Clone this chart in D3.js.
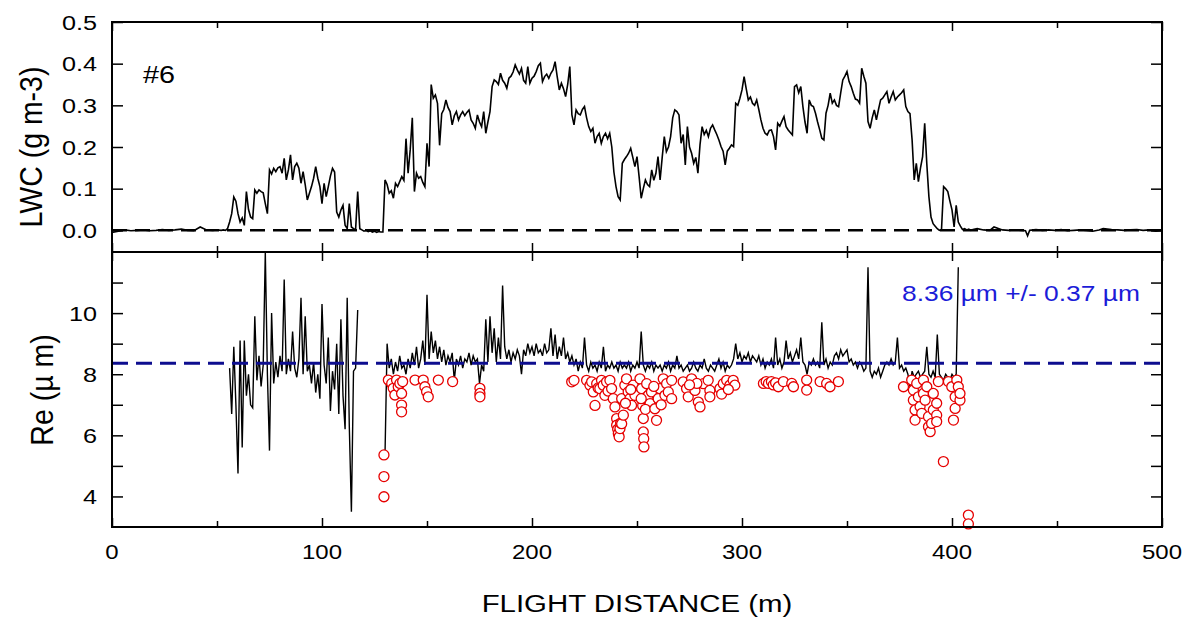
<!DOCTYPE html>
<html lang="en">
<head>
<meta charset="utf-8">
<title>LWC and Re along flight distance, #6</title>
<script src="https://cdn.jsdelivr.net/npm/d3@7"></script>
<style>
  body { margin: 0; background: #fff; }
  text { font-family: "Liberation Sans", Arial, sans-serif; }
</style>
</head>
<body>
<script>
// ---- data ----
// clear air outside the cloud (LWC ~ 0)
var lwcClearDist = [0, 3, 6, 9, 12, 15, 18, 21, 24, 27, 30, 33, 36, 39, 42, 45, 48, 50,
  412, 415, 418, 420, 424, 427, 430, 433, 435, 436, 437, 440, 443, 446, 449, 452, 455, 458,
  461, 464, 467, 470, 472, 476, 479, 482, 485, 488, 491, 494, 497, 500];
var lwcClearVal = [-0.005, -0.002, 0.001, -0.001, 0.000, 0.001, -0.001, 0.000, 0.002, 0.000, 0.001, 0.003, 0.000, -0.001, 0.008, 0.001, 0.000, 0.001,
  0.004, 0.001, 0.000, 0.008, 0.001, 0.000, 0.001, 0.000, -0.001, -0.013, 0.000, 0.002, 0.000, 0.001, 0.000, 0.002, -0.001, 0.000,
  0.001, 0.000, -0.002, 0.001, 0.004, 0.002, 0.001, 0.000, 0.001, 0.002, 0.000, 0.001, -0.002, 0.000];

// in-cloud LWC, one value per metre starting at 52 m
var lwcCloudStart = 52;
var lwcCloud = [
  0.000, 0.001, 0.000, 0.004, 0.020, 0.040, 0.080, 0.070, 0.040, 0.020, 0.030, 0.012, 0.093, 0.050, 0.032, 0.028, 0.097, 0.089,  // 52-69
  0.097, 0.093, 0.090, 0.064, 0.040, 0.145, 0.135, 0.149, 0.141, 0.150, 0.153, 0.137, 0.173, 0.121, 0.145, 0.181, 0.121, 0.153, 0.161, 0.149, // 70-89
  0.113, 0.141, 0.110, 0.073, 0.089, 0.105, 0.125, 0.153, 0.125, 0.105, 0.064, 0.113, 0.081, 0.105, 0.130, 0.149, 0.140, 0.044, 0.032, 0.049, // 90-109
  0.060, 0.012, 0.004, 0.064, 0.008, 0.004, 0.002, 0.093, 0.004, 0.001, -0.002, 0.000, -0.003, -0.001, -0.004, -0.002, -0.005, -0.003, -0.004, -0.004, // 110-129
  0.121, 0.110, 0.089, 0.095, 0.077, 0.113, 0.105, 0.117, 0.129, 0.120, 0.220, 0.137, 0.193, 0.270, 0.093, 0.137, 0.125, 0.129, 0.115, 0.105, // 130-149
  0.209, 0.153, 0.350, 0.317, 0.325, 0.305, 0.204, 0.280, 0.290, 0.313, 0.295, 0.285, 0.253, 0.275, 0.285, 0.265, 0.277, 0.285, 0.275, 0.283, // 150-169
  0.289, 0.265, 0.257, 0.245, 0.277, 0.260, 0.249, 0.285, 0.233, 0.260, 0.285, 0.345, 0.361, 0.357, 0.350, 0.377, 0.360, 0.353, 0.341, 0.365, // 170-189
  0.370, 0.380, 0.397, 0.385, 0.375, 0.389, 0.360, 0.353, 0.393, 0.353, 0.365, 0.370, 0.381, 0.395, 0.401, 0.357, 0.369, 0.375, 0.365, 0.377, // 190-209
  0.385, 0.405, 0.369, 0.337, 0.353, 0.340, 0.321, 0.350, 0.393, 0.277, 0.253, 0.289, 0.280, 0.277, 0.290, 0.297, 0.270, 0.249, 0.237, 0.245, // 210-229
  0.209, 0.225, 0.233, 0.209, 0.225, 0.233, 0.220, 0.233, 0.200, 0.140, 0.105, 0.081, 0.073, 0.161, 0.170, 0.177, 0.185, 0.197, 0.175, 0.153, // 230-249
  0.177, 0.129, 0.077, 0.100, 0.121, 0.110, 0.105, 0.145, 0.120, 0.137, 0.177, 0.121, 0.175, 0.225, 0.189, 0.200, 0.225, 0.270, 0.289, 0.285, // 250-269
  0.277, 0.209, 0.230, 0.157, 0.249, 0.200, 0.185, 0.161, 0.175, 0.137, 0.205, 0.249, 0.230, 0.240, 0.225, 0.245, 0.253, 0.241, 0.230, 0.217, // 270-289
  0.201, 0.190, 0.157, 0.190, 0.197, 0.205, 0.201, 0.305, 0.300, 0.317, 0.337, 0.369, 0.340, 0.313, 0.320, 0.305, 0.300, 0.313, 0.290, 0.265, // 290-309
  0.245, 0.233, 0.229, 0.240, 0.241, 0.225, 0.193, 0.257, 0.250, 0.262, 0.273, 0.249, 0.241, 0.235, 0.229, 0.345, 0.349, 0.330, 0.345, 0.297, // 310-329
  0.260, 0.233, 0.313, 0.300, 0.297, 0.281, 0.260, 0.241, 0.221, 0.217, 0.281, 0.300, 0.329, 0.305, 0.313, 0.300, 0.297, 0.330, 0.361, 0.370, // 330-349
  0.381, 0.357, 0.345, 0.329, 0.315, 0.313, 0.305, 0.389, 0.370, 0.353, 0.261, 0.245, 0.270, 0.289, 0.265, 0.290, 0.313, 0.317, 0.325, 0.333, // 350-369
  0.305, 0.320, 0.333, 0.313, 0.320, 0.325, 0.330, 0.337, 0.297, 0.285, 0.280, 0.217, 0.121, 0.161, 0.117, 0.150, 0.177, 0.257, 0.160, 0.081, // 370-389
  0.032, 0.016, 0.010, 0.004, 0.000, 0.002, 0.105, 0.100, 0.093, 0.070, 0.049, 0.008, 0.060, 0.020, 0.010, 0.002, 0.004, 0.001, 0.003, 0.000, // 390-409
  0.002 // 410
];

// effective radius, two measured segments, one value per metre
var reSeg1Start = 56;
var reSeg1 = [
  8.2, 6.7, 8.9, 7.0, 4.75, 9.1, 5.6, 9.1, 7.3, 8.0, 7.0, 6.9, 9.9, 7.8,            // 56-69
  8.6, 7.6, 8.3, 12.0, 8.0, 5.5, 10.0, 7.7, 8.4, 7.9, 8.6, 8.1, 11.1, 8.0, 8.5, 8.1, 9.4, 8.2, 7.9, 8.5, // 70-89
  10.5, 8.0, 9.9, 8.1, 8.3, 7.7, 8.4, 7.4, 8.0, 7.2, 10.3, 8.3, 7.7, 9.2, 6.8, 8.1, 7.5, 9.0, 6.7, 9.8, // 90-109
  7.3, 6.2, 10.5, 6.3, 3.5, 8.1, 8.2, 10.1                                            // 110-117
];
var reSeg2Start = 130;
var reSeg2 = [
  5.35, 9.0, 8.2, 8.5, 8.0, 8.4, 8.1, 8.6, 8.2, 8.3, 8.0, 8.5, 8.2, 8.7, 8.3, 8.9, 8.2, 8.5, 9.1, 8.3,   // 130-149
  10.6, 8.5, 9.4, 8.7, 9.1, 8.5, 8.9, 8.4, 8.8, 8.3, 8.6, 8.4, 8.7, 7.8, 8.5, 8.3, 8.6, 8.2, 8.5, 8.4,  // 150-169
  8.7, 8.3, 8.6, 8.4, 8.5, 7.7, 8.3, 8.1, 9.8, 8.4, 9.9, 8.7, 9.5, 8.4, 9.2, 8.5, 10.9, 8.9, 8.5, 8.8,  // 170-189
  8.4, 8.7, 8.5, 8.8, 8.6, 8.0, 8.8, 8.6, 9.0, 8.7, 8.9, 8.6, 9.0, 8.7, 8.8, 8.6, 9.0, 8.7, 8.8, 9.5,   // 190-209
  8.6, 9.3, 8.5, 8.9, 8.6, 9.2, 8.5, 8.7, 8.4, 8.6, 8.3, 8.5, 8.1, 8.4, 8.2, 9.2, 8.3, 8.1, 8.4, 8.2,   // 210-229
  8.3, 8.1, 8.4, 8.2, 8.9, 8.1, 8.3, 8.2, 8.4, 8.2, 8.3, 8.1, 8.4, 8.2, 8.3, 8.2, 8.4, 8.1, 8.3, 8.2,   // 230-249
  8.4, 8.2, 9.4, 8.3, 8.1, 8.3, 8.2, 8.4, 8.1, 8.3, 8.2, 8.3, 8.1, 8.3, 8.2, 8.4, 8.1, 8.3, 8.2, 8.6,   // 250-269
  8.2, 8.3, 8.1, 8.2, 8.3, 8.1, 8.2, 8.4, 8.2, 8.1, 8.3, 8.2, 8.5, 8.2, 8.1, 8.3, 8.2, 8.1, 8.3, 8.5,   // 270-289
  8.2, 8.4, 8.1, 8.3, 8.2, 8.3, 8.5, 9.0, 8.5, 8.7, 8.4, 8.6, 8.5, 8.7, 8.4, 8.6, 8.5, 8.4, 8.6, 8.3,   // 290-309
  8.5, 8.2, 8.4, 8.3, 8.5, 8.2, 9.2, 8.3, 8.5, 8.2, 8.4, 9.1, 8.5, 8.7, 8.4, 8.6, 8.8, 8.5, 9.2, 8.4,   // 310-329
  8.3, 8.0, 8.4, 8.3, 8.5, 8.3, 8.4, 8.2, 9.7, 8.3, 8.5, 8.2, 8.4, 8.3, 8.6, 8.7, 8.5, 8.8, 8.6, 8.7,   // 330-349
  8.8, 8.4, 8.5, 8.3, 8.4, 8.2, 8.4, 8.3, 8.1, 8.2, 11.5, 8.1, 7.9, 8.1, 8.0, 8.2, 7.9, 8.1, 8.3, 8.4,  // 350-369
  8.3, 8.5, 8.3, 8.4, 9.2, 8.2, 8.3, 8.1, 8.2, 8.0, 7.6, 8.1, 7.9, 8.0, 8.1, 7.9, 8.0, 8.1, 8.9, 8.0,   // 370-389
  7.9, 8.1, 7.9, 9.3, 8.0, 7.9, 7.8, 8.0, 7.9, 7.8, 8.0, 7.9, 8.0, 11.5                                  // 390-403
];

// small-Re samples (open red circles)
var smallReDist = [
  129.5, 129.5, 129.5, 131.6, 133.2, 133.9, 134.7, 135.5, 136.3, 137.1, 137.9, 137.9, 137.9, 138.4,
  144.3, 148.2, 149.0, 149.8, 150.6, 155.4, 162.2, 175.2, 175.2, 175.2,
  218.9, 220.0,
  226.0, 227.6, 228.4, 229.2, 230.0, 230.8, 231.5, 232.3, 233.1, 233.9, 234.7, 235.5, 236.2,
  237.1, 237.9, 238.7, 239.5, 240.3, 240.3, 240.8, 241.1, 241.5, 241.9, 242.2, 242.7, 243.5, 242.7, 244.2, 245.0, 245.8, 246.6, 247.4, 248.2, 249.0, 247.0, 244.5,
  251.4, 252.2, 252.7, 253.0, 253.0, 253.2, 253.3, 253.8, 254.6, 255.4, 256.2, 256.9, 252.0, 254.0,
  258.5, 259.3, 260.1, 260.9, 262.5, 263.3, 264.1, 264.9, 266.5, 266.5, 261.5, 258.0,
  272.0, 273.6, 274.4, 276.0, 277.6, 279.2, 280.0, 281.6, 283.9, 284.7, 284.7, 278.5, 275.0,
  289.5, 291.1, 292.7, 294.2, 295.8, 296.6, 290.3, 293.5,
  310.2, 311.5, 312.6, 314.0, 314.9, 316.0, 317.3, 319.7, 323.7, 324.5, 330.8, 330.8, 337.2, 340.3, 341.9, 345.9,
  376.9, 380.8, 381.6, 381.6, 382.4, 382.4, 383.2, 384.0, 384.8, 385.6, 386.4, 386.4, 387.2, 388.0, 388.8, 388.8, 389.6, 390.3,
  391.1, 391.1, 392.7, 392.7, 392.7, 393.5, 395.9, 398.3, 399.9, 401.5, 401.5, 400.7, 402.3, 403.0, 403.8, 403.8, 407.8, 407.8
];
var smallReVal = [
  5.36, 4.65, 3.99, 7.81, 7.70, 7.54, 7.32, 7.81, 7.59, 7.70, 7.37, 6.99, 6.77, 7.76,
  7.81, 7.81, 7.59, 7.43, 7.26, 7.81, 7.76, 7.54, 7.37, 7.26,
  7.75, 7.80,
  7.80, 7.64, 7.75, 7.42, 6.98, 7.69, 7.55, 7.53, 7.80, 7.64, 7.31, 7.75, 7.45,
  7.80, 7.53, 7.20, 6.93, 6.55, 6.33, 6.20, 6.06, 5.95, 6.22, 6.40, 6.38, 6.66, 7.20, 7.64, 7.85, 7.42, 7.20, 6.98, 7.64, 7.31, 7.50, 7.05,
  7.85, 7.53, 6.98, 6.55, 6.11, 5.89, 5.62, 7.20, 7.69, 7.31, 7.04, 7.42, 7.20, 6.85,
  6.87, 6.49, 7.20, 7.53, 7.85, 7.31, 7.69, 7.42, 7.80, 7.20, 7.00, 7.60,
  7.75, 7.53, 7.26, 7.85, 7.47, 7.09, 6.93, 7.69, 7.80, 7.47, 7.26, 7.70, 7.65,
  7.53, 7.69, 7.80, 7.64, 7.80, 7.64, 7.35, 7.50,
  7.70, 7.76, 7.70, 7.76, 7.65, 7.72, 7.59, 7.76, 7.70, 7.59, 7.81, 7.48, 7.76, 7.70, 7.59, 7.76,
  7.59, 7.81, 7.48, 7.15, 6.83, 6.50, 7.70, 7.26, 6.94, 6.72, 7.81, 7.37, 7.15, 7.59, 6.61, 6.28, 6.12, 6.39,
  6.83, 7.37, 7.05, 6.66, 6.45, 7.76, 5.14, 7.76, 7.59, 7.26, 6.88, 6.50, 7.81, 7.59, 7.15, 7.37, 3.39, 3.10
];

var reMean = 8.36;
var reStd = 0.37;

var xTicks = [0, 100, 200, 300, 400, 500];
var xMinorTicks = [50, 150, 250, 350, 450];
var lwcTicks = [0.0, 0.1, 0.2, 0.3, 0.4, 0.5];
var reTicks = [4, 6, 8, 10];
var reMinorTicks = [5, 7, 9, 11];

// ---- layout ----
var w = 1183, h = 619;
var left = 112, right = 1162;
var topA = 22, mid = 252, bottomB = 527;
var stretch = 1.2;   // the source figure is a bit wider than tall

var svg = d3.select("body").append("svg").attr("width", w).attr("height", h);

var x = d3.scaleLinear().domain([0, 500]).range([left, right]);
var yLwc = d3.scaleLinear().domain([-0.052, 0.5]).range([mid, topA]);
var yRe = d3.scaleLinear().domain([3, 12]).range([bottomB, mid]);

// build the series
var lwcData = [];
lwcClearDist.forEach(function(d, i) { lwcData.push({ dist: d, val: lwcClearVal[i] }); });
lwcCloud.forEach(function(v, i) { lwcData.push({ dist: lwcCloudStart + i, val: v }); });
lwcData.sort(function(a, b) { return a.dist - b.dist; });

var reData = [];
reSeg1.forEach(function(v, i) { reData.push({ dist: reSeg1Start + i, val: v }); });
reData.push({ dist: 123, val: null });   // no retrieval between the two segments
reSeg2.forEach(function(v, i) { reData.push({ dist: reSeg2Start + i, val: v }); });

var smallRe = smallReDist.map(function(d, i) { return { dist: d, val: smallReVal[i] }; });

// ---- top panel: LWC ----
svg.append("line")
  .attr("x1", x(0)).attr("x2", x(500))
  .attr("y1", yLwc(0)).attr("y2", yLwc(0))
  .attr("stroke", "#000").attr("stroke-width", 2.5)
  .attr("stroke-dasharray", "15,8");

var lwcLine = d3.line().x(function(d) { return x(d.dist); }).y(function(d) { return yLwc(d.val); });
svg.append("path")
  .datum(lwcData)
  .attr("d", lwcLine)
  .attr("fill", "none")
  .attr("stroke", "#000")
  .attr("stroke-width", 1.6);

// ---- bottom panel: Re ----
var reLine = d3.line()
  .defined(function(d) { return d.val != null; })
  .x(function(d) { return x(d.dist); })
  .y(function(d) { return yRe(d.val); });
svg.append("path")
  .datum(reData)
  .attr("d", reLine)
  .attr("fill", "none")
  .attr("stroke", "#000")
  .attr("stroke-width", 1.4);

svg.append("line")
  .attr("x1", x(0)).attr("x2", x(500))
  .attr("y1", yRe(reMean)).attr("y2", yRe(reMean))
  .attr("stroke", "#0d0d8f").attr("stroke-width", 3)
  .attr("stroke-dasharray", "16,8");

svg.append("g").selectAll("circle")
  .data(smallRe)
  .enter().append("circle")
  .attr("cx", function(d) { return x(d.dist); })
  .attr("cy", function(d) { return yRe(d.val); })
  .attr("r", 5)
  .attr("fill", "#fff")
  .attr("stroke", "#e60000")
  .attr("stroke-width", 1.3);

// ---- frames and ticks ----
function frame(y0, y1) {
  svg.append("rect")
    .attr("x", left).attr("y", y0)
    .attr("width", right - left).attr("height", y1 - y0)
    .attr("fill", "none").attr("stroke", "#000").attr("stroke-width", 2);
}
frame(topA, mid);
frame(mid, bottomB);

function xTickRows(yPos, axisFn) {
  svg.append("g").attr("transform", "translate(0," + yPos + ")")
    .call(axisFn(x).tickValues(xTicks).tickSize(-9).tickFormat(""));
  svg.append("g").attr("transform", "translate(0," + yPos + ")")
    .call(axisFn(x).tickValues(xMinorTicks).tickSize(-6).tickFormat(""));
}
xTickRows(topA, d3.axisTop);
xTickRows(mid, d3.axisBottom);
xTickRows(mid, d3.axisTop);
xTickRows(bottomB, d3.axisBottom);

svg.append("g").attr("transform", "translate(" + left + ",0)")
  .call(d3.axisLeft(yLwc).tickValues(lwcTicks).tickSize(-11).tickFormat(""));
svg.append("g").attr("transform", "translate(" + right + ",0)")
  .call(d3.axisRight(yLwc).tickValues(lwcTicks).tickSize(-11).tickFormat(""));
svg.append("g").attr("transform", "translate(" + left + ",0)")
  .call(d3.axisLeft(yRe).tickValues(reTicks.concat(reMinorTicks)).tickSize(-11).tickFormat(""));
svg.append("g").attr("transform", "translate(" + right + ",0)")
  .call(d3.axisRight(yRe).tickValues(reTicks.concat(reMinorTicks)).tickSize(-11).tickFormat(""));

svg.selectAll(".domain").remove();
svg.selectAll(".tick line").attr("stroke", "#000").attr("stroke-width", 1.5);

// ---- labels ----
function label(txt, px, py, size, anchor, color) {
  return svg.append("text")
    .attr("transform", "translate(" + px + "," + py + ") scale(" + stretch + ",1)")
    .attr("text-anchor", anchor)
    .attr("font-size", size)
    .style("fill", color || "#000")
    .text(txt);
}

lwcTicks.forEach(function(t) { label(d3.format(".1f")(t), 97, yLwc(t) + 7.5, 21, "end"); });
reTicks.forEach(function(t) { label(t, 97, yRe(t) + 7.5, 21, "end"); });
xTicks.forEach(function(t) { label(t, x(t), 559, 20, "middle"); });

label("#6", 143, 83, 24, "start");
label("8.36 \u00b5m +/- 0.37 \u00b5m", 902, 301, 22, "start", "#1c1cd8");
label("FLIGHT DISTANCE (m)", (left + right) / 2, 612, 24.5, "middle");

function yTitle(txt, px, py) {
  svg.append("text")
    .attr("transform", "translate(" + px + "," + py + ") scale(1.1,1) rotate(-90)")
    .attr("text-anchor", "middle")
    .attr("font-size", 28.5)
    .style("fill", "#000")
    .text(txt);
}
yTitle("LWC (g m-3)", 42, 147);
yTitle("Re (\u00b5 m)", 53, 390);
</script>
</body>
</html>
